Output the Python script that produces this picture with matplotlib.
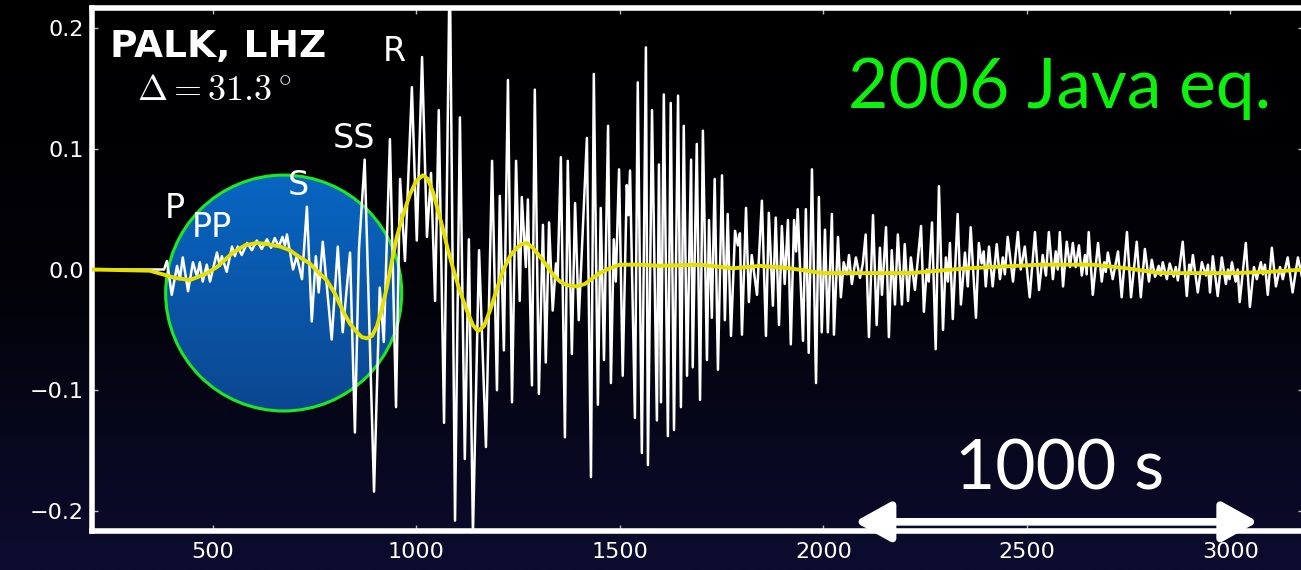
import numpy as np
import matplotlib.pyplot as plt
from matplotlib.patches import Ellipse
from matplotlib.colors import LinearSegmentedColormap

plt.rcParams['mathtext.fontset'] = 'cm'

# vertical seismogram (LHZ), time in s, read peak by peak from the picture
trace_t = [203, 380, 387, 399, 412, 419, 426, 439, 451, 461, 468, 475, 485, 493,
           510, 517, 522, 534, 547, 554, 561, 571, 584, 596, 608, 620, 633, 643,
           652, 662, 671, 677, 682, 697, 706, 719, 731, 743, 753, 760, 770, 792,
           807, 819, 837, 849, 859, 873, 896, 910, 920, 935, 950, 960, 972, 989,
           1001, 1014, 1026, 1036, 1046, 1055, 1068, 1082, 1095, 1107, 1119, 1129,
           1139, 1154, 1171, 1186, 1198, 1205, 1215, 1225, 1235, 1245, 1254, 1259,
           1269, 1274, 1284, 1291, 1301, 1311, 1318, 1326, 1335, 1343, 1347, 1355,
           1365, 1372, 1382, 1390, 1399, 1419, 1429, 1436, 1446, 1453, 1461, 1471,
           1478, 1485, 1490, 1498, 1507, 1517, 1521, 1525, 1537, 1544, 1554, 1564,
           1569, 1579, 1591, 1596, 1601, 1608, 1618, 1625, 1633, 1643, 1650, 1657,
           1665, 1675, 1679, 1689, 1697, 1704, 1714, 1719, 1726, 1733, 1741, 1751,
           1758, 1765, 1773, 1783, 1790, 1795, 1800, 1810, 1817, 1824, 1837, 1849,
           1859, 1866, 1876, 1883, 1891, 1898, 1905, 1913, 1920, 1928, 1933, 1937,
           1950, 1957, 1964, 1972, 1982, 1989, 1996, 2004, 2011, 2021, 2026, 2036,
           2043, 2050, 2058, 2063, 2070, 2080, 2090, 2097, 2104, 2112, 2122, 2131,
           2139, 2144, 2154, 2161, 2168, 2176, 2183, 2193, 2200, 2208, 2215, 2225,
           2232, 2240, 2247, 2254, 2259, 2267, 2276, 2284, 2294, 2301, 2306, 2311,
           2318, 2330, 2338, 2348, 2355, 2362, 2375, 2382, 2389, 2394, 2399, 2407,
           2416, 2426, 2434, 2441, 2446, 2453, 2466, 2478, 2485, 2495, 2507, 2520,
           2530, 2539, 2547, 2554, 2564, 2571, 2576, 2581, 2589, 2598, 2606, 2613,
           2620, 2628, 2635, 2643, 2647, 2652, 2662, 2675, 2684, 2690, 2694, 2699,
           2711, 2724, 2733, 2746, 2756, 2770, 2780, 2790, 2800, 2807, 2815, 2824,
           2829, 2834, 2844, 2851, 2861, 2866, 2871, 2883, 2893, 2899, 2903, 2908,
           2920, 2930, 2940, 2945, 2950, 2957, 2969, 2979, 2989, 2994, 2998, 3004,
           3013, 3018, 3023, 3038, 3048, 3058, 3065, 3075, 3080, 3085, 3092, 3102,
           3112, 3122, 3129, 3141, 3153, 3166, 3176, 3185]
trace_a = [0.0, 0.0, 0.007, -0.021, 0.003, -0.008, 0.010, -0.018, 0.006, -0.006, 0.006, -0.010, 0.004, -0.010,
           0.014, 0.003, 0.011, -0.002, 0.019, 0.011, 0.019, 0.012, 0.022, 0.016, 0.024, 0.017, 0.025, 0.018,
           0.026, 0.019, 0.027, 0.020, 0.029, 0.000, 0.011, -0.008, 0.052, -0.043, 0.011, -0.019, 0.023, -0.058,
           0.019, -0.052, 0.014, -0.135, 0.017, 0.091, -0.184, -0.015, -0.060, 0.108, -0.114, 0.075, 0.007, 0.151,
           0.024, 0.176, 0.027, 0.080, -0.026, 0.132, -0.127, 0.260, -0.208, 0.126, -0.157, 0.025,
           -0.220, 0.016, -0.147, 0.090, -0.100, 0.061, -0.067, 0.157, -0.110, 0.090, -0.026, 0.060,
           0.002, 0.058, -0.096, 0.149, -0.103, 0.037, -0.077, 0.039, -0.034, 0.005, -0.008, 0.093,
           -0.139, 0.090, -0.070, 0.055, -0.042, 0.109, -0.172, 0.162, -0.112, 0.051, -0.075, 0.119,
           -0.094, 0.025, -0.010, 0.083, -0.088, 0.070, 0.045, 0.082, -0.123, 0.155, -0.152, 0.184,
           -0.162, 0.132, -0.125, 0.087, -0.110, 0.145, -0.138, 0.138, -0.133, 0.144, -0.114, 0.119,
           -0.088, 0.091, -0.081, 0.104, -0.108, 0.115, -0.075, 0.041, -0.040, 0.075, -0.083, 0.078,
           -0.042, 0.046, -0.055, 0.032, 0.020, 0.030, -0.054, 0.051, -0.027, 0.012, -0.021, 0.057,
           -0.055, 0.047, -0.030, 0.043, -0.046, 0.036, -0.012, 0.041, -0.062, 0.041, 0.015, 0.050,
           -0.059, 0.050, -0.069, 0.083, -0.094, 0.060, -0.052, 0.033, -0.052, 0.046, -0.054, 0.027,
           -0.023, 0.006, -0.004, 0.012, -0.012, 0.010, -0.007, 0.005, 0.029, -0.056, 0.045, -0.046,
           0.018, -0.021, 0.035, -0.056, 0.016, -0.029, 0.029, -0.029, 0.021, -0.026, 0.010, -0.017,
           0.008, 0.036, -0.035, 0.000, -0.010, 0.039, -0.066, 0.069, -0.050, 0.010, -0.010, 0.022,
           -0.041, 0.046, -0.029, 0.014, -0.014, 0.035, -0.040, 0.022, 0.005, 0.015, -0.014, 0.019,
           -0.014, 0.021, -0.008, 0.010, -0.004, 0.027, -0.010, 0.031, 0.000, 0.019, -0.023, 0.031,
           -0.017, 0.012, -0.005, 0.031, -0.008, 0.015, 0.000, 0.031, -0.014, 0.023, 0.002, 0.022,
           0.002, 0.020, -0.005, 0.012, -0.004, 0.031, -0.021, 0.022, -0.010, 0.006, -0.002, 0.014,
           -0.008, 0.015, -0.023, 0.031, -0.023, 0.023, -0.023, 0.017, -0.010, 0.008, -0.006, 0.003,
           -0.005, 0.006, -0.008, 0.005, -0.006, 0.002, -0.009, 0.023, -0.022, 0.004, -0.002, 0.012,
           -0.019, 0.006, -0.005, 0.004, -0.019, 0.011, -0.022, 0.010, -0.012, 0.000, -0.008, 0.006,
           -0.010, 0.000, -0.027, 0.022, -0.031, 0.002, -0.008, 0.006, -0.004, 0.004, -0.021, 0.018,
           -0.014, 0.002, -0.008, 0.010, -0.019, 0.010, -0.006, 0.004]

# long-period (low-passed) version, yellow
smooth_t = [203, 345, 377, 407, 444, 480, 510, 549, 579, 608, 633, 665, 689, 714,
            738, 758, 780, 800, 819, 837, 854, 866, 878, 891, 903, 915, 928, 940,
            952, 967, 984, 999, 1016, 1028, 1041, 1053, 1065, 1077, 1090, 1107, 1124,
            1139, 1151, 1166, 1181, 1198, 1213, 1230, 1247, 1259, 1272, 1286, 1303,
            1321, 1335, 1353, 1370, 1394, 1414, 1426, 1446, 1468, 1500, 1549, 1598,
            1697, 1778, 1844, 1918, 1999, 2107, 2213, 2353, 2532, 2662, 2746, 2827,
            3006, 3090, 3181]
smooth_a = [0.0, -0.001, -0.004, -0.007, -0.0087, -0.004, 0.002, 0.014, 0.020, 0.022, 0.021, 0.019, 0.016, 0.010,
            0.005, -0.002, -0.009, -0.020, -0.034, -0.045, -0.052, -0.056, -0.057, -0.055, -0.047, -0.033, -0.014, 0.007,
            0.027, 0.045, 0.062, 0.073, 0.078, 0.075, 0.064, 0.049, 0.034, 0.017, 0.001, -0.018, -0.034,
            -0.046, -0.051, -0.047, -0.034, -0.016, -0.001, 0.011, 0.018, 0.021, 0.022, 0.018, 0.011,
            0.003, -0.004, -0.010, -0.013, -0.014, -0.012, -0.009, -0.004, 0.0, 0.004, 0.004, 0.003,
            0.004, 0.001, 0.003, 0.001, -0.003, -0.003, -0.003, 0.001, 0.004, 0.004, 0.001, -0.003,
            -0.003, -0.002, 0.0]

x_ticks = [500, 1000, 1500, 2000, 2500, 3000]
y_ticks = [-0.2, -0.1, 0.0, 0.1, 0.2]

phase_names = ['P', 'PP', 'S', 'SS', 'R']
phase_t = [407, 498, 711, 847, 945]
phase_a = [0.043, 0.027, 0.062, 0.101, 0.173]

W, H = 1301, 570
fig = plt.figure(figsize=(W / 100, H / 100), dpi=100)

# slide background: black at top fading to dark navy
bg = fig.add_axes([0, 0, 1, 1], zorder=-10)
grad = np.linspace(0, 1, 256).reshape(-1, 1)
bg_cmap = LinearSegmentedColormap.from_list('bg', ['#000000', '#020208', '#0c0c30'])
bg.imshow(grad, aspect='auto', cmap=bg_cmap, extent=[0, 1, 0, 1], origin='upper')
bg.axis('off')

ax = fig.add_axes([92 / W, 1 - 531 / H, (1304 - 92) / W, (531 - 8) / H])
ax.set_facecolor('none')

# blue disc highlighting the body-wave part
cx, cy, cw, ch = 674, -0.0195, 580, 0.1954
disc = Ellipse((cx, cy), cw, ch, facecolor='none', edgecolor='#1ee81e', lw=2.2, zorder=2)
ax.add_patch(disc)
blue_cmap = LinearSegmentedColormap.from_list('blue', ['#0766c2', '#0c4791'])
img = ax.imshow(grad, extent=[cx - cw / 2, cx + cw / 2, cy - ch / 2, cy + ch / 2],
                cmap=blue_cmap, aspect='auto', origin='upper', zorder=1)
img.set_clip_path(disc)

ax.plot(trace_t, trace_a, color='white', lw=1.8, zorder=3)
ax.plot(smooth_t, smooth_a, color='#e6e000', lw=2.8, zorder=4)

ax.set_xlim(203, 3181)
ax.set_ylim(-0.2166, 0.2166)
ax.set_xticks(x_ticks)
ax.set_yticks(y_ticks)
ax.set_yticklabels(['\u22120.2', '\u22120.1', '0.0', '0.1', '0.2'])

for s in ax.spines.values():
    s.set_color('white')
    s.set_linewidth(4)
ax.tick_params(direction='in', top=True, right=True, length=4, width=1,
               color='#bbbbbb', labelcolor='white', labelsize=16)
ax.tick_params(axis='x', pad=8)
ax.tick_params(axis='y', pad=6)

ax.text(247, 0.176, 'PALK, LHZ', fontsize=27, fontweight='bold', color='white', zorder=6)
ax.text(313, 0.140, r'$\Delta=31.3^\circ$', fontsize=26, color='white', zorder=6)

for name, t, a in zip(phase_names, phase_t, phase_a):
    ax.text(t, a, name, fontsize=24, color='white', ha='center', va='baseline', zorder=6)

ax.text(2580, 0.1337, '2006 Java eq.', fontsize=50, family='Lato', color='#0df20d',
        ha='center', va='baseline', zorder=6)
ax.text(2581, -0.1826, '1000 s', fontsize=50, family='Lato', color='white',
        ha='center', va='baseline', zorder=6)

ax.annotate('', xy=(3068, -0.209), xytext=(2077, -0.209),
            arrowprops=dict(arrowstyle='<|-|>,head_length=0.45,head_width=0.25',
                            color='white', lw=5.5, mutation_scale=48,
                            shrinkA=0, shrinkB=0),
            annotation_clip=False, zorder=7)

fig.savefig('out.png', dpi=100, facecolor='black')
